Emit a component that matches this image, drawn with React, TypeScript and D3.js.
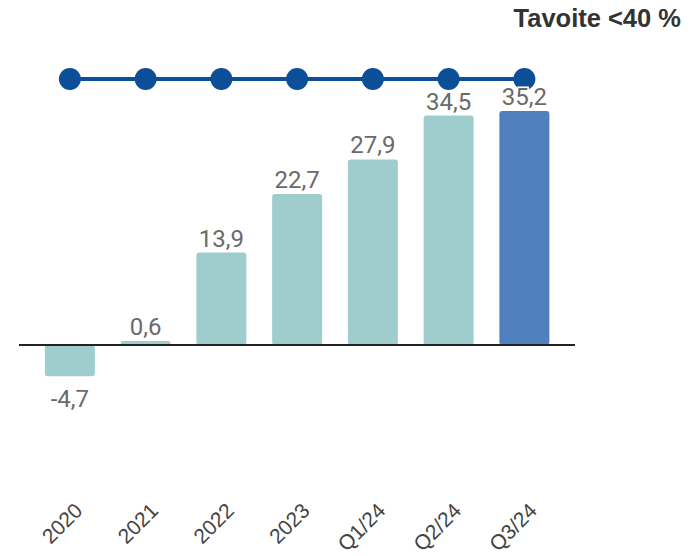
import React from "react";
import * as d3 from "d3";

const categories = ["2020", "2021", "2022", "2023", "Q1/24", "Q2/24", "Q3/24"];
const values = [-4.7, 0.6, 13.9, 22.7, 27.9, 34.5, 35.2];
const valueLabels = ["-4,7", "0,6", "13,9", "22,7", "27,9", "34,5", "35,2"];
const targetValues = [40, 40, 40, 40, 40, 40, 40];
const title = "Tavoite <40 %";

const W = 697;
const H = 556;

export default function App() {
  const x = d3
    .scaleBand<string>()
    .domain(categories)
    .range([32, 562.25])
    .paddingInner(0.34)
    .paddingOuter(0.17);
  const y = d3.scaleLinear().domain([0, 40]).range([345, 79]);
  const bw = x.bandwidth();
  const cx = (c: string) => (x(c) as number) + bw / 2;

  const line = d3
    .line<number>()
    .x((_, i) => cx(categories[i]))
    .y((d) => y(d));

  return (
    <svg
      width={W}
      height={H}
      style={{ position: "absolute", left: 0, top: 0, background: "#fff" }}
    >
      <text
        x={681}
        y={27}
        textAnchor="end"
        fontFamily="Liberation Sans, Arial, sans-serif"
        fontWeight="bold"
        fontSize={25.5}
        fill="#333"
      >
        {title}
      </text>

      {values.map((v, i) => {
        const c = categories[i];
        const top = y(Math.max(0, v));
        const bot = y(Math.min(0, v));
        return (
          <rect
            key={c}
            x={x(c)}
            y={top}
            width={bw}
            height={Math.max(1, bot - top)}
            rx={3}
            fill={i === values.length - 1 ? "#4f7fbd" : "#9fcdcd"}
          />
        );
      })}

      <line x1={19} x2={575} y1={y(0)} y2={y(0)} stroke="#222" strokeWidth={2} />

      <path d={line(targetValues) || ""} fill="none" stroke="#0c4f98" strokeWidth={4} />
      {targetValues.map((v, i) => (
        <circle key={i} cx={cx(categories[i])} cy={y(v)} r={11} fill="#0c4f98" />
      ))}

      {values.map((v, i) => {
        const c = categories[i];
        const ty = v >= 0 ? y(v) - 6 : y(v) + 31;
        return (
          <text
            key={c}
            x={cx(c)}
            y={ty}
            textAnchor="middle"
            fontFamily="Roboto, sans-serif"
            fontSize={24}
            fill="#6a6a6a"
            stroke="#fff"
            strokeWidth={3}
            paintOrder="stroke"
          >
            {valueLabels[i]}
          </text>
        );
      })}

      {categories.map((c) => (
        <text
          key={c}
          transform={`translate(${cx(c) + 14},512) rotate(-45)`}
          textAnchor="end"
          fontFamily="Liberation Sans, Arial, sans-serif"
          fontSize={21}
          fill="#444"
        >
          {c}
        </text>
      ))}
    </svg>
  );
}
